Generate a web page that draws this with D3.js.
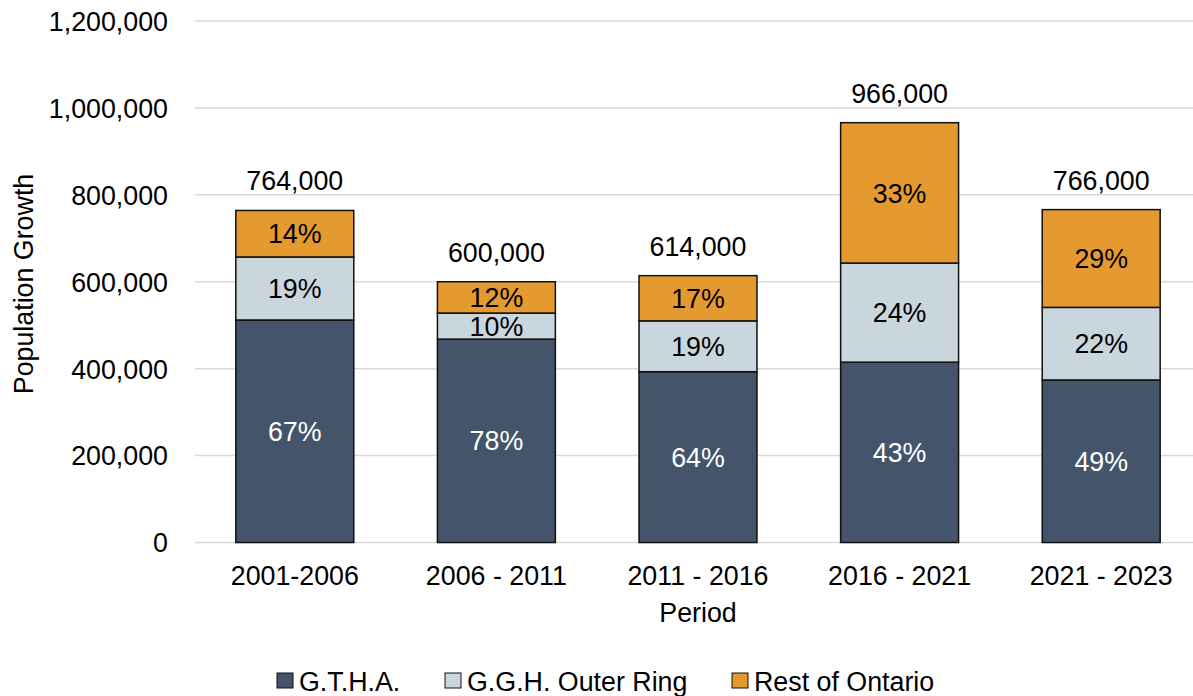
<!DOCTYPE html>
<html>
<head>
<meta charset="utf-8">
<script src="https://cdn.jsdelivr.net/npm/d3@7"></script>
<style>
  body { margin: 0; background: #fff; }
  text { font-family: "Liberation Sans", Arial, sans-serif; fill: #000; }
</style>
</head>
<body>
<div id="chart"></div>
<script>
// data
const periods = ["2001-2006", "2006 - 2011", "2011 - 2016", "2016 - 2021", "2021 - 2023"]
const series = ["G.T.H.A.", "G.G.H. Outer Ring", "Rest of Ontario"]
const gtha = [512000, 468000, 393000, 415000, 374000]
const outerRing = [145000, 60000, 117000, 228000, 167000]
const restOntario = [107000, 72000, 104000, 323000, 225000]
const gthaPct = ["67%", "78%", "64%", "43%", "49%"]
const outerPct = ["19%", "10%", "19%", "24%", "22%"]
const restPct = ["14%", "12%", "17%", "33%", "29%"]
const totals = ["764,000", "600,000", "614,000", "966,000", "766,000"]
const yTicks = [0, 200000, 400000, 600000, 800000, 1000000, 1200000]
const colors = ["#44546A", "#CAD6DE", "#E59A2F"]
const labelColors = ["#fff", "#000", "#000"]

const width = 1193, height = 696
const fs = 26.8

const svg = d3.select("#chart").append("svg")
    .attr("width", width)
    .attr("height", height)

const rows = periods.map((p, i) => ({
  period: p, g: gtha[i], o: outerRing[i], r: restOntario[i],
  pct: [gthaPct[i], outerPct[i], restPct[i]], total: totals[i]
}))

const stack = d3.stack().keys(["g", "o", "r"])(rows)

// scales
const xScale = d3.scaleBand()
    .domain(periods)
    .range([194, 1202])
    .paddingInner(0.415)
    .paddingOuter(0.2075)

const yScale = d3.scaleLinear()
    .domain([0, 1200000])
    .range([542.5, 21])

// gridlines
svg.append("g").selectAll("line")
    .data(yTicks)
    .enter().append("line")
    .attr("x1", 195).attr("x2", width)
    .attr("y1", d => yScale(d)).attr("y2", d => yScale(d))
    .attr("stroke", "#D9D9D9")
    .attr("stroke-width", 1.5)

// y axis labels
const yAxis = d3.axisLeft(yScale)
    .tickValues(yTicks)
    .tickFormat(d3.format(","))
    .tickSize(0)
    .tickPadding(0)
svg.append("g")
    .attr("transform", "translate(168,0)")
    .call(yAxis)
    .call(g => g.select(".domain").remove())
    .selectAll("text")
    .attr("font-size", fs)
    .attr("font-family", "Liberation Sans, Arial, sans-serif")
    .attr("fill", "#000")
    .attr("dy", "0.35em")

// bars
stack.forEach((layer, k) => {
  const grp = svg.append("g")
  grp.selectAll("rect")
      .data(layer)
      .enter().append("rect")
      .attr("x", d => xScale(d.data.period))
      .attr("y", d => yScale(d[1]))
      .attr("width", xScale.bandwidth())
      .attr("height", d => yScale(d[0]) - yScale(d[1]))
      .attr("fill", colors[k])
      .attr("stroke", "#111")
      .attr("stroke-width", 1.5)
  grp.selectAll("text")
      .data(layer)
      .enter().append("text")
      .attr("x", d => xScale(d.data.period) + xScale.bandwidth() / 2)
      .attr("y", d => (yScale(d[0]) + yScale(d[1])) / 2)
      .attr("dy", "0.36em")
      .attr("text-anchor", "middle")
      .attr("font-size", fs)
      .style("fill", labelColors[k])
      .text(d => d.data.pct[k])
})

// totals above bars
svg.append("g").selectAll("text")
    .data(rows)
    .enter().append("text")
    .attr("x", d => xScale(d.period) + xScale.bandwidth() / 2)
    .attr("y", d => yScale(d.g + d.o + d.r) - 20)
    .attr("text-anchor", "middle")
    .attr("font-size", fs)
    .text(d => d.total)

// x axis labels
const xAxis = d3.axisBottom(xScale).tickSize(0).tickPadding(0)
svg.append("g")
    .attr("transform", "translate(0,585)")
    .call(xAxis)
    .call(g => g.select(".domain").remove())
    .selectAll("text")
    .attr("dy", 0)
    .attr("font-size", fs)
    .attr("font-family", "Liberation Sans, Arial, sans-serif")
    .attr("fill", "#000")

// axis titles
svg.append("text")
    .attr("x", 698).attr("y", 622)
    .attr("text-anchor", "middle")
    .attr("font-size", fs)
    .text("Period")

svg.append("text")
    .attr("transform", "translate(33,284) rotate(-90)")
    .attr("text-anchor", "middle")
    .attr("font-size", fs)
    .text("Population Growth")

// legend
const legendX = [277, 445, 732]
const legend = svg.append("g").attr("transform", "translate(0,681)")
series.forEach((s, i) => {
  const item = legend.append("g").attr("transform", `translate(${legendX[i]},0)`)
  item.append("rect")
      .attr("x", 0).attr("y", -8)
      .attr("width", 16).attr("height", 15)
      .attr("fill", colors[i])
      .attr("stroke", "#111")
      .attr("stroke-width", 1)
  item.append("text")
      .attr("x", 22).attr("y", 0)
      .attr("dy", "0.36em")
      .attr("font-size", fs)
      .text(s)
})
</script>
</body>
</html>
